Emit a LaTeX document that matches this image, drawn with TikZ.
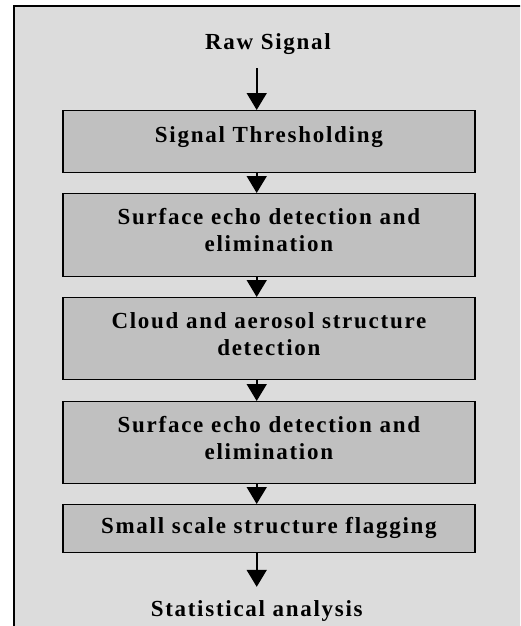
\documentclass[tikz,border=0pt]{standalone}
\usepackage{fontspec}
\setmainfont{Liberation Serif}[LetterSpace=7.5]
\usetikzlibrary{arrows.meta}

\definecolor{panelgray}{HTML}{DCDCDC}
\definecolor{stagegray}{HTML}{C0C0C0}

\newcommand{\flowtext}{\fontsize{23}{27}\selectfont\bfseries}

\tikzset{
  stage/.style={draw, fill=stagegray, line width=1.4pt, anchor=north, inner sep=0pt,
    text width=412pt, align=center, font=\flowtext},
  endpoint/.style={anchor=base, inner sep=0pt, font=\flowtext},
  flow/.style={-{Triangle[width=20pt,length=17pt]}, line width=1.6pt},
}

\begin{document}
\begin{tikzpicture}[x=1pt, y=-1pt]
    \clip (0,0) rectangle (520,626);
    % grey panel, cut off at right and bottom
    \draw[line width=1.8pt, fill=panelgray] (14,6) rectangle (540,650);
    \coordinate (ax) at (256.7,0);

    % processing chain
    \node[endpoint] (raw) at (268,49.5) {Raw Signal};
    \node[stage, text height=31.7pt, text depth=30.3pt] (thresh) at (268.9,110) {Signal Thresholding};
    \node[stage, text height=30.3pt, text depth=52.7pt] (surfA) at (268.9,193) {Surface echo detection and\\ elimination};
    \node[stage, text height=30.3pt, text depth=51.7pt] (cloud) at (268.9,297) {Cloud and aerosol structure\\ detection};
    \node[stage, text height=30.3pt, text depth=51.7pt] (surfB) at (268.9,401) {Surface echo detection and\\ elimination};
    \node[stage, text height=29pt, text depth=19pt] (flag) at (268.9,504) {Small scale structure flagging};
    \node[endpoint] (stats) at (256.7,616) {Statistical analysis};

    % arrows
    \draw[flow, shorten <=13.5pt] (raw.south -| ax) -- (thresh.north -| ax);
    \draw[flow] (thresh.south -| ax) -- (surfA.north -| ax);
    \draw[flow] (surfA.south -| ax) -- (cloud.north -| ax);
    \draw[flow] (cloud.south -| ax) -- (surfB.north -| ax);
    \draw[flow] (surfB.south -| ax) -- (flag.north -| ax);
    \draw[flow, shorten >=13pt] (flag.south -| ax) -- (stats.north -| ax);
\end{tikzpicture}
\end{document}
